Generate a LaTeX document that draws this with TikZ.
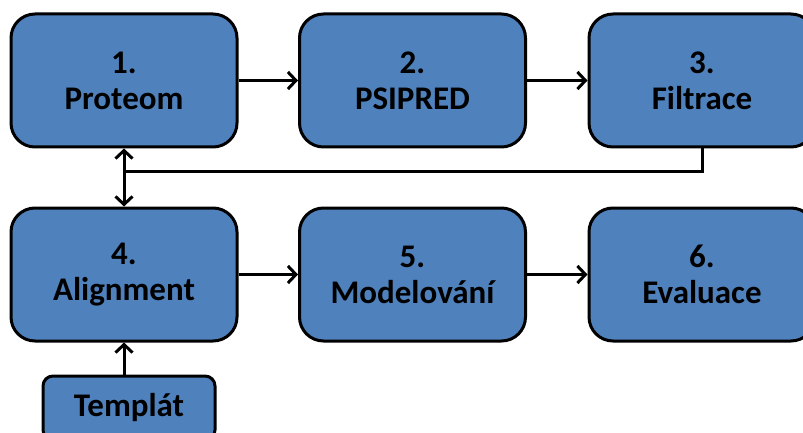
\documentclass[tikz,border=0pt]{standalone}
\usepackage{fontspec}
\setmainfont{Carlito}
\usepackage{xcolor}
\usetikzlibrary{arrows.meta,positioning}
\definecolor{stepblue}{RGB}{79,129,189}

\begin{document}
\begin{tikzpicture}[x=1pt,y=1pt,
  font=\fontsize{33}{36}\selectfont\bfseries,
  stepbox/.style={draw=black,fill=stepblue,line width=3pt,rounded corners=24pt,
    minimum width=226pt,minimum height=133pt,align=center,inner sep=0pt},
  srcbox/.style={draw=black,fill=stepblue,line width=3pt,rounded corners=10pt,
    minimum width=172pt,minimum height=64pt,align=center,inner sep=0pt},
  flow/.style={-{Straight Barb[length=8pt,width=17pt,line width=3pt]},line width=3pt},
  both/.style={{Straight Barb[length=8pt,width=17pt,line width=3pt]}-{Straight Barb[length=8pt,width=17pt,line width=3pt]},line width=3pt},
  plain/.style={line width=3pt}]

\path[use as bounding box] (0,0) rectangle (803,-433);
\begin{scope}
\clip (0,0) rectangle (803,-433);
% upper row
\node[stepbox] (proteom) at (124,-80.5) {1.\\Proteom};
\node[stepbox] (psipred) at (412.5,-80.5) {2.\\PSIPRED};
\node[stepbox] (filtrace) at (702,-80.5) {3.\\Filtrace};
% lower row
\node[stepbox] (alignment) at (124,-274.5) {4.\\Alignment};
\node[stepbox] (modelovani) at (412.5,-274.5) {5.\\Modelování};
\node[stepbox] (evaluace) at (702,-274.5) {6.\\Evaluace};
\node[srcbox] (templat) at (129,-408) {Templát};

\draw[flow] (proteom)--(psipred);
\draw[flow] (psipred)--(filtrace);
\draw[flow] (alignment)--(modelovani);
\draw[flow] (modelovani)--(evaluace);
\draw[flow] (templat.north -| alignment.south)--(alignment.south);
\draw[both] (proteom.south)--(alignment.north);
\coordinate (back) at (124,-171);
\draw[plain] (filtrace.south) |- (back);
\end{scope}

\end{tikzpicture}
\end{document}
